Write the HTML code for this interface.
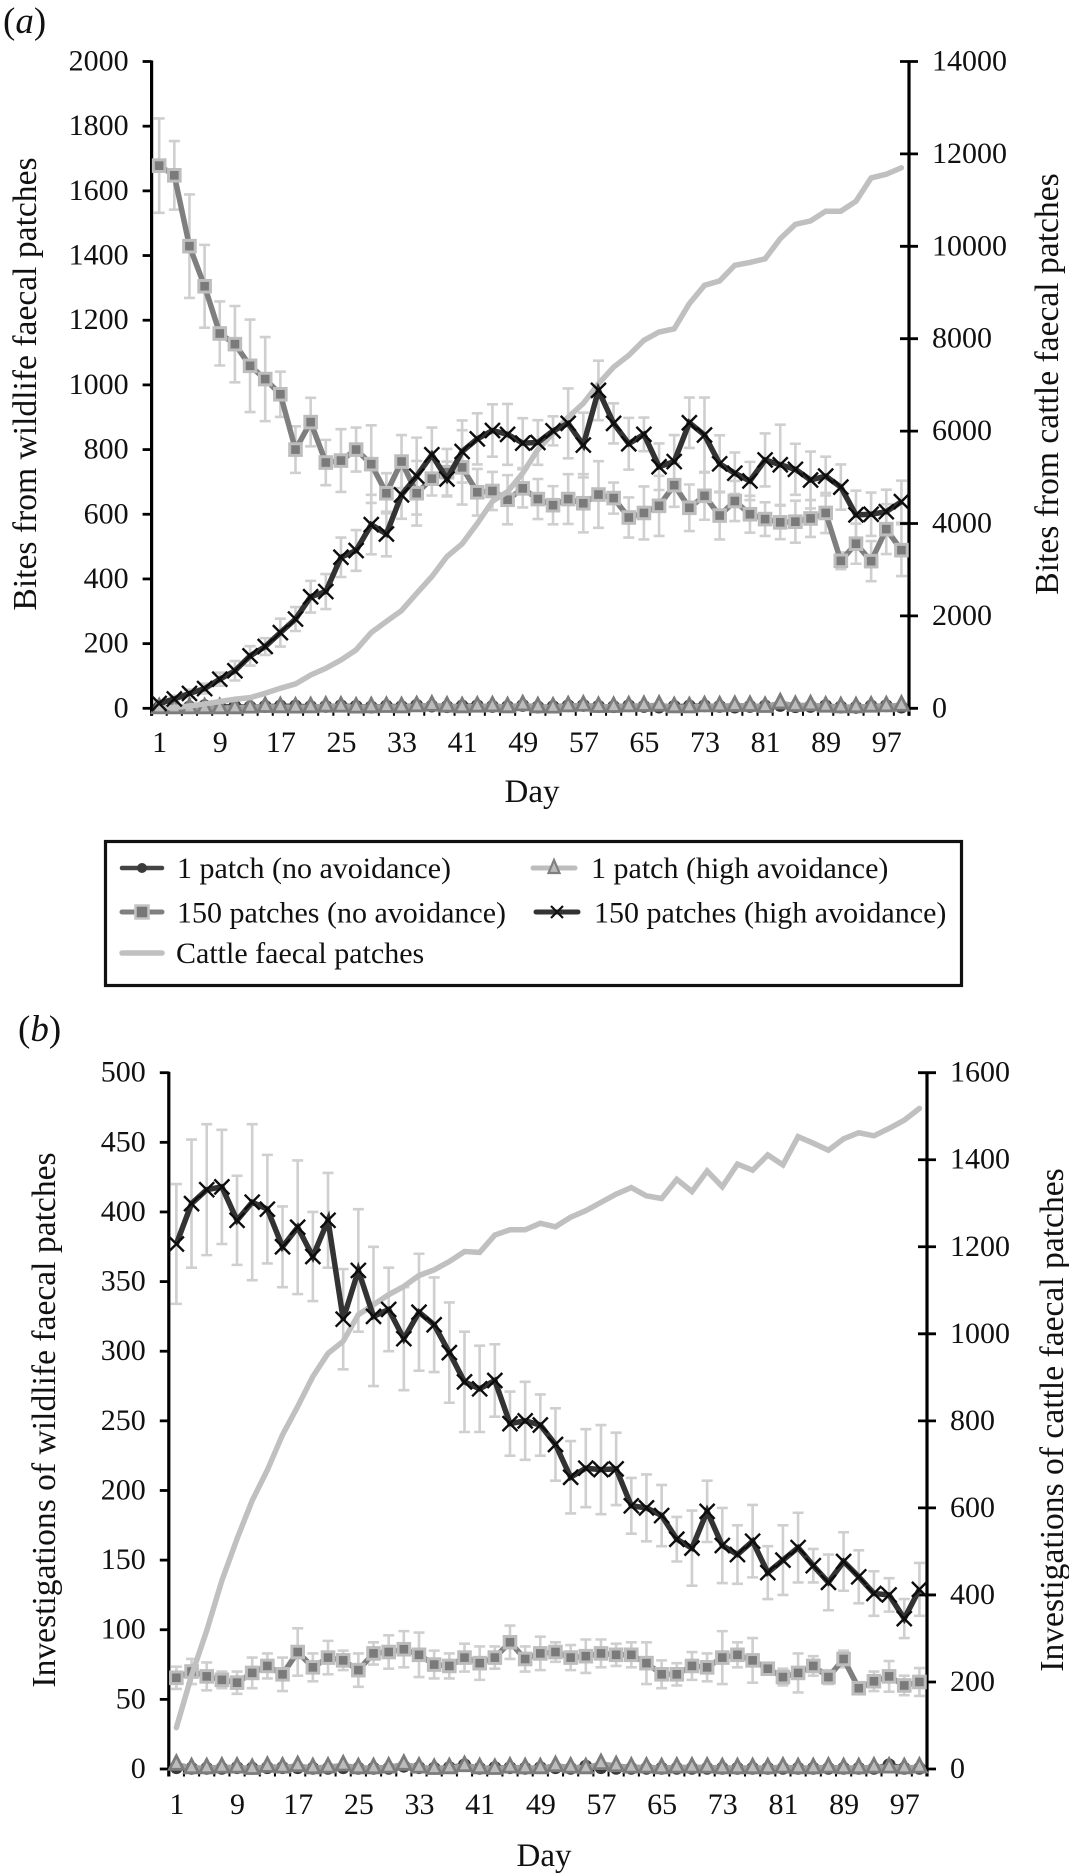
<!DOCTYPE html>
<html lang="en">
<head>
<meta charset="utf-8">
<title>Bites and investigations of faecal patches by day</title>
<style>
html,body{margin:0;padding:0;background:#fff;}
svg{display:block;}
text{font-family:"Liberation Serif","Times New Roman",serif;fill:#111;}
</style>
</head>
<body>
<svg id="figure" xmlns="http://www.w3.org/2000/svg" width="1069" height="1874" viewBox="0 0 1069 1874">
  <rect x="0" y="0" width="1069" height="1874" fill="#fff"/>
  <text x="3" y="33" font-size="37"><tspan>(</tspan><tspan font-style="italic">a</tspan><tspan>)</tspan></text>
  <text x="18" y="1041" font-size="37"><tspan>(</tspan><tspan font-style="italic">b</tspan><tspan>)</tspan></text>
  <g id="panelA"></g>
  <g id="panelB"></g>
  <g>
    <rect x="105.5" y="841.5" width="856" height="144" fill="#fff" stroke="#111" stroke-width="3.2"/>
    <g>
      <line x1="122" y1="868" x2="162" y2="868" stroke="#444" stroke-width="4.5" stroke-linecap="round"/>
      <circle cx="142" cy="868" r="5" fill="#3a3a3a"/>
      <text x="177" y="878" font-size="30">1 patch (no avoidance)</text>
    </g>
    <g>
      <line x1="533" y1="868" x2="575" y2="868" stroke="#bdbdbd" stroke-width="5" stroke-linecap="round"/>
      <polygon points="554,860 548.5,873 559.5,873" fill="#bbb" stroke="#808080" stroke-width="2.2"/>
      <text x="591" y="878" font-size="30">1 patch (high avoidance)</text>
    </g>
    <g>
      <line x1="122" y1="912" x2="162" y2="912" stroke="#808080" stroke-width="5" stroke-linecap="round"/>
      <rect x="135.5" y="905.5" width="13" height="13" fill="#777" stroke="#c4c4c4" stroke-width="2.5"/>
      <text x="177" y="922.5" font-size="30">150 patches (no avoidance)</text>
    </g>
    <g>
      <line x1="536" y1="912" x2="578" y2="912" stroke="#333" stroke-width="5" stroke-linecap="round"/>
      <path d="M551,906 L563,918 M563,906 L551,918" stroke="#111" stroke-width="2.2"/>
      <text x="594" y="922.5" font-size="30">150 patches (high avoidance)</text>
    </g>
    <g>
      <line x1="122" y1="953" x2="162" y2="953" stroke="#c0c0c0" stroke-width="5.5" stroke-linecap="round"/>
      <text x="176" y="963" font-size="30">Cattle faecal patches</text>
    </g>
  </g>
</svg>
<script>
// Shared categories (sampled every second day) and tick labels
var days = [];
days.push(1,3,5,7,9,11,13,15,17,19,21,23,25,27,29,31,33,35,37,39,41,43,45,47,49,51,53,55,57,59,61,63,65,67,69,71,73,75,77,79,81,83,85,87,89,91,93,95,97,99);
var xTickLabels = [1,9,17,25,33,41,49,57,65,73,81,89,97];

// Panel (a) tick labels
var aLeftTicks = [0,200,400,600,800,1000,1200,1400,1600,1800,2000];
var aRightTicks = [0,2000,4000,6000,8000,10000,12000,14000];

// Panel (a) series values
var aNoAvoid = [1678,1648,1429,1305,1159,1126,1059,1018,971,800,885,760,766,800,755,665,763,665,710,730,745,668,672,645,680,647,628,647,634,661,650,590,604,626,690,620,657,596,641,600,585,575,577,587,604,456,509,455,554,489];
var aNoAvoidErr = [146,106,160,128,99,118,143,130,70,72,75,70,97,68,120,62,82,100,52,72,115,72,59,76,59,62,59,77,90,103,48,62,82,93,67,72,74,74,62,57,52,52,65,57,62,26,62,62,77,80];
var aHighAvoid = [15,29,46,61,90,116,162,191,234,276,345,361,467,488,568,539,660,718,784,709,794,833,859,847,820,822,858,881,814,983,881,818,847,747,763,883,845,756,727,703,768,753,739,706,718,684,598,600,608,639];
var aHighAvoidErr = [8,10,12,15,20,30,30,26,43,37,49,54,61,63,92,69,74,119,84,54,96,79,81,94,77,69,45,108,100,92,62,80,52,72,82,78,116,88,64,59,82,124,79,88,60,70,75,67,68,65];
var aOnePatchNo = [3,2,4,8,5,6,4,6,7,7,5,6,8,6,4,7,5,9,7,5,7,8,6,5,9,4,5,8,9,6,5,8,6,4,6,7,8,6,4,6,7,9,5,6,8,4,3,7,8,4];
var aOnePatchHigh = [0,0,0,0,0,0,2,4,3,2,3,5,5,2,3,4,3,6,8,5,3,5,6,3,9,3,2,6,8,4,4,6,7,8,3,3,6,6,7,7,4,15,7,9,5,3,3,5,6,8];
var aCattle = [5,20,50,94,145,195,230,325,433,527,720,866,1045,1265,1640,1880,2115,2490,2850,3285,3560,4000,4480,4690,5090,5600,5950,6300,6600,7025,7385,7640,7965,8145,8215,8760,9155,9250,9590,9650,9730,10165,10475,10550,10760,10760,10975,11480,11560,11700];

// Panel (b) tick labels
var bLeftTicks = [0,50,100,150,200,250,300,350,400,450,500];
var bRightTicks = [0,200,400,600,800,1000,1200,1400,1600];

// Panel (b) series values
var bNoAvoid = [65.5,70,66.5,64,62,69,74,68,84,73,80,78,71,83,84,86,82,75,74,80,76,80,91,79,83,84,80,81,83,82,82,76,68,68,74,73,80,82,78,72,66,69,74,66,79,58,63,66.5,60,62.5];
var bNoAvoidErr = [8,9,10,6,8,11,9,12,17,10,12,7,12,8,12,13,16,10,9,10,12,8,12,9,12,7,9,12,10,8,9,15,10,8,10,10,19,9,16,4,6,14,7,5,6,4,7,11,7,10];
var bHighAvoid = [377,406,416,418,394,407,402,375,389,368,394,323,358,325,330,309,328,319,299,278,273,279,248,250,247,233,209.5,216,215,215.5,189,187.5,182,165,158.6,185,160.5,154,163.6,141,150,159,146,134,149,138,126,125,108,129];
var bHighAvoidErr = [43,46,47,41,32,56,39,29,48,32,34,36,44,50,30,37,42,34,36,36,31,26,23,28,22,26,26,28,32,26,20,24,22,16,27,22,27,21,26,19,25,25,12,20,21,19,16,12,14,19];
var bOnePatchNo = [1,0.5,0.5,0.5,1,0.5,1,1,1,0.5,0.5,1,0.5,0.5,0.5,2,1,0.5,1,3,0.5,1,1,0.5,1,1,0.5,2,1,0.5,0.5,0.5,0.5,0.5,0.5,0.5,0.5,0.5,0.5,0.5,0.5,0.5,0.5,0.5,0.5,0.5,0.5,3,0.5,0.5];
var bOnePatchHigh = [3,0.5,0.5,1,1,0,1.5,1,2,0.5,1,2.5,0.5,0.5,1,3,1,0,0.5,2,0.5,0,1,0.5,0.5,2,1,0.5,3.5,2,1,1,0.5,1,1,1,0.5,0.5,0.5,0.5,1,0.5,0.5,1,0.5,0.5,1,1,0.5,1];
var bCattle = [95,215,318,433,529,617,687,768,833,902,955,983,1044,1067,1090,1109,1134,1147,1166,1189,1187,1227,1239,1239,1254,1246,1268,1283,1302,1321,1336,1317,1311,1355,1327,1374,1338,1390,1376,1411,1388,1453,1438,1422,1448,1462,1455,1472,1491,1518];

var SVGNS = 'http://www.w3.org/2000/svg';

function make(parent, tag, attrs, txt) {
  var el = document.createElementNS(SVGNS, tag);
  for (var k in attrs) { el.setAttribute(k, attrs[k]); }
  if (txt !== undefined) { el.textContent = txt; }
  parent.appendChild(el);
  return el;
}

function drawPanel(root, p) {
  var n = p.days.length;
  var band = (p.xR - p.xL) / n;
  function xScale(i) { return p.xL + (i + 0.5) * band; }
  function yLeft(v) { return p.y0 + (p.yTop - p.y0) * v / p.leftMax; }
  function yRight(v) { return p.y0 + (p.yTop - p.y0) * v / p.rightMax; }
  function polyPoints(vals, yf) {
    return vals.map(function (v, i) { return xScale(i).toFixed(2) + ',' + yf(v).toFixed(2); }).join(' ');
  }

  // Error bars
  function errorBars(vals, errs, name) {
    var g = make(root, 'g', {});
    
    
    vals.forEach(function (v, i) {
      var x = xScale(i);
      var top = yLeft(v + errs[i]);
      var bot = yLeft(v - errs[i]);
      var d = 'M' + x + ',' + top + 'V' + bot + 'M' + (x - 5.5) + ',' + top + 'H' + (x + 5.5) + 'M' + (x - 5.5) + ',' + bot + 'H' + (x + 5.5);
      make(g, 'path', { d: d, stroke: '#cfcfcf', 'stroke-width': 2.6, fill: 'none' });
    });
  }
  errorBars(p.noAvoid, p.noAvoidErr, 'error-bars-150-patches-no-avoidance');
  errorBars(p.highAvoid, p.highAvoidErr, 'error-bars-150-patches-high-avoidance');

  // Axes
  var axes = make(root, 'g', {});
  
  
  var leftAxis = make(axes, 'line', { x1: p.xL, x2: p.xL, y1: p.yTop - 1, y2: p.y0 + 7.5, stroke: '#000', 'stroke-width': 3.2 });
  
  
  var rightAxis = make(axes, 'line', { x1: p.xR, x2: p.xR, y1: p.yTop, y2: p.y0 + 7.5, stroke: '#000', 'stroke-width': 3.2 });
  
  
  var baseAxis = make(axes, 'line', { x1: p.xL, x2: p.xR, y1: p.y0, y2: p.y0, stroke: '#000', 'stroke-width': 2 });
  
  
  for (var t = 0; t <= n; t++) {
    var xt = p.xL + t * band;
    make(axes, 'line', { x1: xt, x2: xt, y1: p.y0, y2: p.y0 + 7.5, stroke: '#000', 'stroke-width': 2 });
  }
  p.leftTicks.forEach(function (v) {
    var y = yLeft(v);
    make(axes, 'line', { x1: p.xL - 9, x2: p.xL, y1: y, y2: y, stroke: '#000', 'stroke-width': 2.8 });
    var lab = make(axes, 'text', { x: p.xL - 23, y: y + 9, 'font-size': 30, 'text-anchor': 'end' }, v);
    
    
  });
  p.rightTicks.forEach(function (v) {
    var y = yRight(v);
    make(axes, 'line', { x1: p.xR - 9, x2: p.xR + 9, y1: y, y2: y, stroke: '#000', 'stroke-width': 2.8 });
    var lab = make(axes, 'text', { x: p.xR + 23, y: y + 9, 'font-size': 30 }, v);
    
    
  });
  p.xTicks.forEach(function (d) {
    var idx = p.days.indexOf(d);
    var lab = make(axes, 'text', { x: xScale(idx) + 0.5, y: p.xLabelY, 'font-size': 30, 'text-anchor': 'middle' }, d);
    
    
  });

  // Axis titles
  var lt = make(root, 'text', { transform: 'translate(' + p.leftTitleX + ',' + p.titleCy + ') rotate(-90)', 'font-size': 33.6, 'text-anchor': 'middle' }, p.leftTitle);
  
  
  var rt = make(root, 'text', { transform: 'translate(' + p.rightTitleX + ',' + p.titleCy + ') rotate(-90)', 'font-size': 33.6, 'text-anchor': 'middle' }, p.rightTitle);
  
  
  var xtt = make(root, 'text', { x: p.dayX, y: p.dayY, 'font-size': 33, 'text-anchor': 'middle' }, 'Day');
  
  

  // 1 patch (no avoidance)
  var s1 = make(root, 'g', {});
  
  
  make(s1, 'polyline', { points: polyPoints(p.onePatchNo, yLeft), fill: 'none', stroke: '#555', 'stroke-width': 5 });
  p.onePatchNo.forEach(function (v, i) {
    make(s1, 'circle', { cx: xScale(i), cy: yLeft(v), r: 6.5, fill: '#3a3a3a' });
  });

  // 1 patch (high avoidance)
  var s2 = make(root, 'g', {});
  
  
  make(s2, 'polyline', { points: polyPoints(p.onePatchHigh, yLeft), fill: 'none', stroke: '#a0a0a0', 'stroke-width': 6 });
  p.onePatchHigh.forEach(function (v, i) {
    var x = xScale(i), y = yLeft(v);
    var pts = x + ',' + (y - 9) + ' ' + (x - 7) + ',' + (y + 4.5) + ' ' + (x + 7) + ',' + (y + 4.5);
    make(s2, 'polygon', { points: pts, fill: '#bcbcbc', stroke: '#7c7c7c', 'stroke-width': 2.8 });
  });

  // 150 patches (no avoidance)
  var s3 = make(root, 'g', {});
  
  
  make(s3, 'polyline', { points: polyPoints(p.noAvoid, yLeft), fill: 'none', stroke: '#7f7f7f', 'stroke-width': 5.5 });
  p.noAvoid.forEach(function (v, i) {
    make(s3, 'rect', { x: xScale(i) - 5.8, y: yLeft(v) - 5.8, width: 11.6, height: 11.6, fill: '#7a7a7a', stroke: '#bdbdbd', 'stroke-width': 3 });
  });

  // Cattle faecal patches (right axis)
  var s4 = make(root, 'polyline', { points: polyPoints(p.cattle, yRight), fill: 'none', stroke: '#c0c0c0', 'stroke-width': 5.5, 'stroke-linecap': 'round' });
  
  

  // 150 patches (high avoidance)
  var s5 = make(root, 'g', {});
  
  
  make(s5, 'polyline', { points: polyPoints(p.highAvoid, yLeft), fill: 'none', stroke: '#333', 'stroke-width': 5.5 });
  p.highAvoid.forEach(function (v, i) {
    var x = xScale(i), y = yLeft(v);
    var d = 'M' + (x - 7.5) + ',' + (y - 7.5) + 'L' + (x + 7.5) + ',' + (y + 7.5) + 'M' + (x + 7.5) + ',' + (y - 7.5) + 'L' + (x - 7.5) + ',' + (y + 7.5);
    make(s5, 'path', { d: d, stroke: '#0d0d0d', 'stroke-width': 2.4, fill: 'none' });
  });
}

drawPanel(document.getElementById('panelA'), {
  days: days, xTicks: xTickLabels,
  xL: 151.6, xR: 909, yTop: 61.5, y0: 708.3,
  leftMax: 2000, rightMax: 14000,
  leftTicks: aLeftTicks, rightTicks: aRightTicks,
  noAvoid: aNoAvoid, noAvoidErr: aNoAvoidErr,
  highAvoid: aHighAvoid, highAvoidErr: aHighAvoidErr,
  onePatchNo: aOnePatchNo, onePatchHigh: aOnePatchHigh, cattle: aCattle,
  xLabelY: 752, leftTitleX: 36, rightTitleX: 1058, titleCy: 384,
  leftTitle: 'Bites from wildlife faecal patches',
  rightTitle: 'Bites from cattle faecal patches',
  dayX: 532, dayY: 802
});

drawPanel(document.getElementById('panelB'), {
  days: days, xTicks: xTickLabels,
  xL: 168.8, xR: 927, yTop: 1072.7, y0: 1769,
  leftMax: 500, rightMax: 1600,
  leftTicks: bLeftTicks, rightTicks: bRightTicks,
  noAvoid: bNoAvoid, noAvoidErr: bNoAvoidErr,
  highAvoid: bHighAvoid, highAvoidErr: bHighAvoidErr,
  onePatchNo: bOnePatchNo, onePatchHigh: bOnePatchHigh, cattle: bCattle,
  xLabelY: 1814, leftTitleX: 55, rightTitleX: 1063, titleCy: 1420,
  leftTitle: 'Investigations of wildlife faecal patches',
  rightTitle: 'Investigations of cattle faecal patches',
  dayX: 544, dayY: 1866
});
</script>
</body>
</html>
